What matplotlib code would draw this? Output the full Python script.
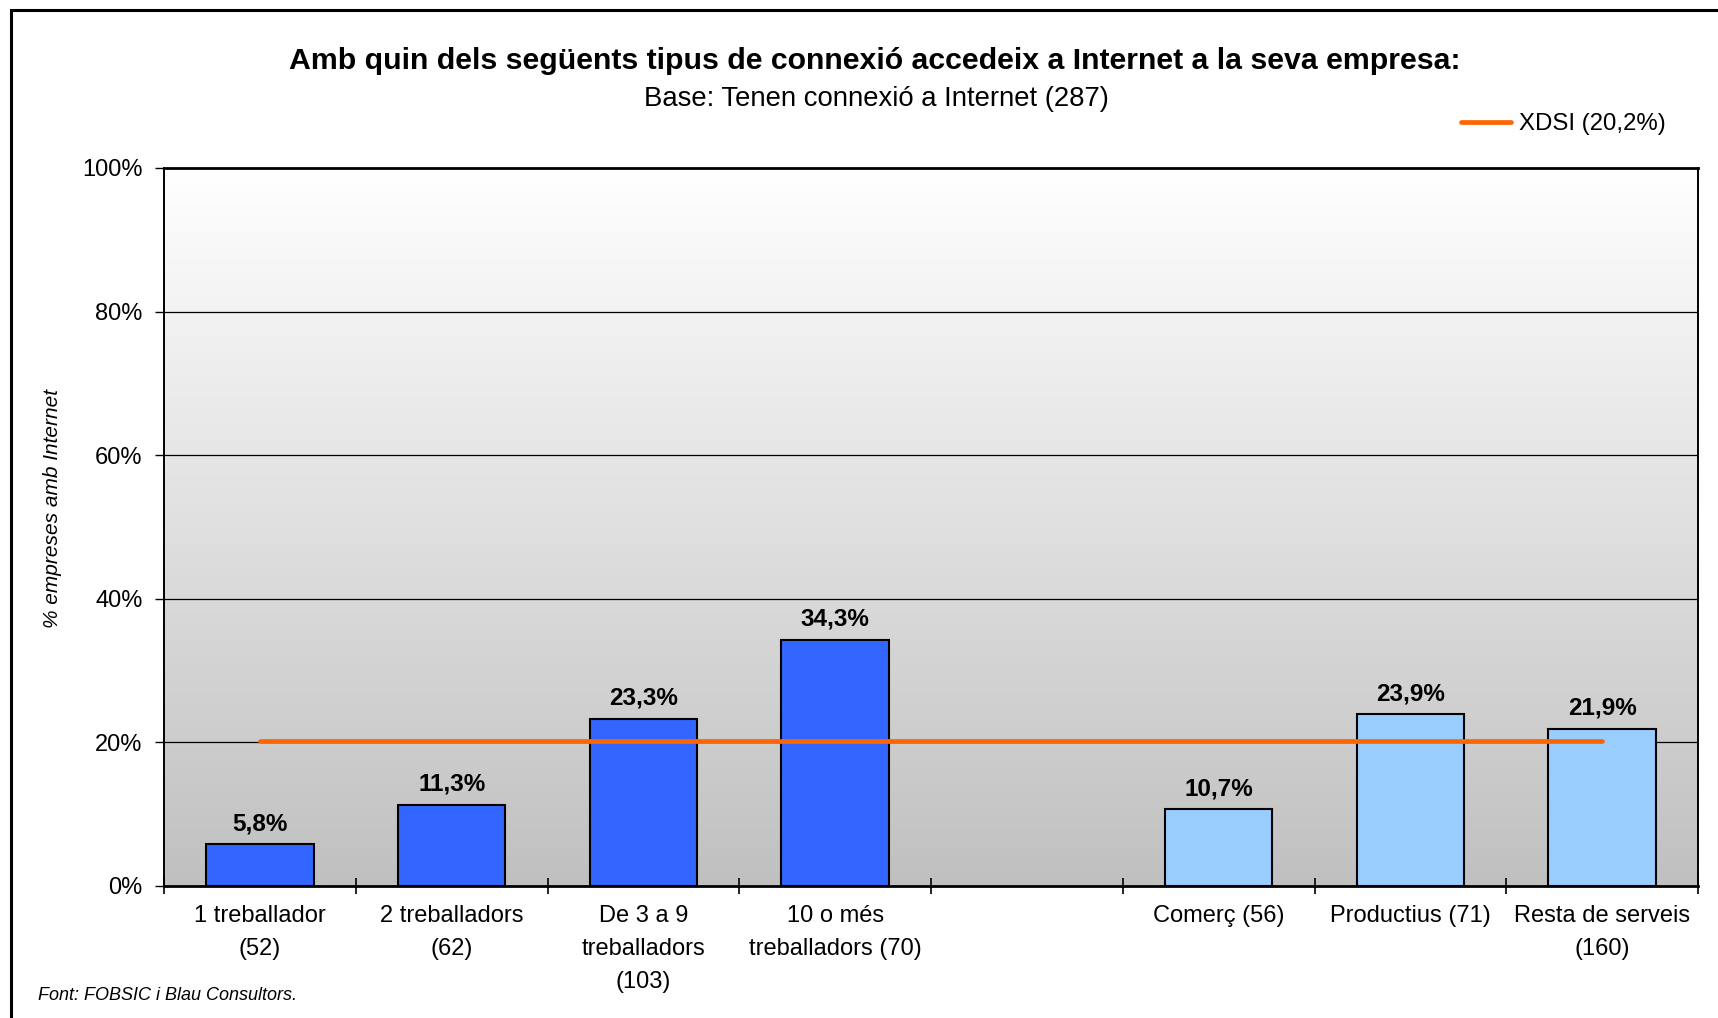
import matplotlib
matplotlib.use("Agg")
import matplotlib.pyplot as plt
import matplotlib.patches as mpatches
from matplotlib.colors import LinearSegmentedColormap
import numpy as np

plt.rcParams["font.family"] = ["Liberation Sans", "DejaVu Sans"]

# data
size_labels = ["1 treballador\n(52)", "2 treballadors\n(62)",
               "De 3 a 9\ntreballadors\n(103)", "10 o més\ntreballadors (70)"]
size_values = [5.8, 11.3, 23.3, 34.3]
sector_labels = ["Comerç (56)", "Productius (71)", "Resta de serveis\n(160)"]
sector_values = [10.7, 23.9, 21.9]
xdsi_value = 20.2
xdsi_label = "XDSI (20,2%)"
y_ticks = [0, 20, 40, 60, 80, 100]

title = "Amb quin dels següents tipus de connexió accedeix a Internet a la seva empresa:"
subtitle = "Base: Tenen connexió a Internet (287)"
ylabel = "% empreses amb Internet"
source = "Font: FOBSIC i Blau Consultors."

labels = size_labels + [""] + sector_labels
size_x = np.arange(len(size_labels))
sector_x = np.arange(len(sector_labels)) + len(size_labels) + 1
n_slots = len(labels)

W, H = 1718, 1018
fig = plt.figure(figsize=(W / 100, H / 100), dpi=100)
ax = fig.add_axes([164 / W, 1 - 886 / H, (1698 - 164) / W, (886 - 168) / H])

# gradient background
cmap = LinearSegmentedColormap.from_list("bg", ["#C0C0C0", "#FFFFFF"])
grad = np.linspace(0, 1, 256).reshape(-1, 1)
ax.imshow(grad, extent=[-0.5, n_slots - 0.5, 0, 100], aspect="auto",
          cmap=cmap, origin="lower", zorder=0)

for y in y_ticks[1:-1]:
    ax.axhline(y, color="black", lw=0.9, zorder=1)

bw = 0.56
ax.bar(size_x, size_values, width=bw, color="#3366FF", edgecolor="black",
       linewidth=1.5, zorder=2)
ax.bar(sector_x, sector_values, width=bw, color="#99CCFF", edgecolor="black",
       linewidth=1.5, zorder=2)

for x, v in list(zip(size_x, size_values)) + list(zip(sector_x, sector_values)):
    ax.annotate(f"{v:.1f}%".replace(".", ","), (x, v), xytext=(0, 6.5),
                textcoords="offset points", ha="center", va="bottom",
                fontsize=17.5, fontweight="bold", zorder=4)

ax.plot([0, n_slots - 1], [xdsi_value, xdsi_value], color="#FF6600", lw=3.4,
        solid_capstyle="round", zorder=3, label=xdsi_label)

ax.set_xlim(-0.5, n_slots - 0.5)
ax.set_ylim(0, 100)
ax.set_yticks(y_ticks)
ax.set_yticklabels([f"{t}%" for t in y_ticks], fontsize=17)
ax.tick_params(axis="y", length=6.5, width=1, pad=9)

ax.set_xticks(np.arange(n_slots))
ax.set_xticklabels(labels, fontsize=17, linespacing=1.62, va="top")
ax.tick_params(axis="x", which="major", length=0, pad=14)
ax.set_xticks(np.arange(n_slots + 1) - 0.5, minor=True)
ax.tick_params(axis="x", which="minor", direction="inout", length=11, width=1.2)

for side in ["top", "bottom"]:
    ax.spines[side].set_linewidth(2)
for side in ["left", "right"]:
    ax.spines[side].set_linewidth(1.4)

ax.set_ylabel(ylabel, fontsize=15, style="italic")
ax.yaxis.set_label_coords(62 / W, 0.5, transform=fig.transFigure)

fig.text(875 / W, 1 - 61 / H, title, ha="center", va="center",
         fontsize=21.8, fontweight="bold")
fig.text(876 / W, 1 - 99 / H, subtitle, ha="center", va="center", fontsize=19.8)
fig.text(38 / W, 1 - 996 / H, source, ha="left", va="center",
         fontsize=13, style="italic")

ax.legend(loc="center left", bbox_to_anchor=(1461 / W, 1 - 124 / H),
          bbox_transform=fig.transFigure, frameon=False, fontsize=17.3,
          handlelength=2.1, handletextpad=0.3, borderpad=0, borderaxespad=0)

# outer frame
fig.patches.append(mpatches.Rectangle((11 / W, -0.05), 1.1, 1 - 10 / H + 0.05,
                                      transform=fig.transFigure, fill=False,
                                      edgecolor="black", lw=2.2, clip_on=False))

fig.savefig("out.png", dpi=100)
